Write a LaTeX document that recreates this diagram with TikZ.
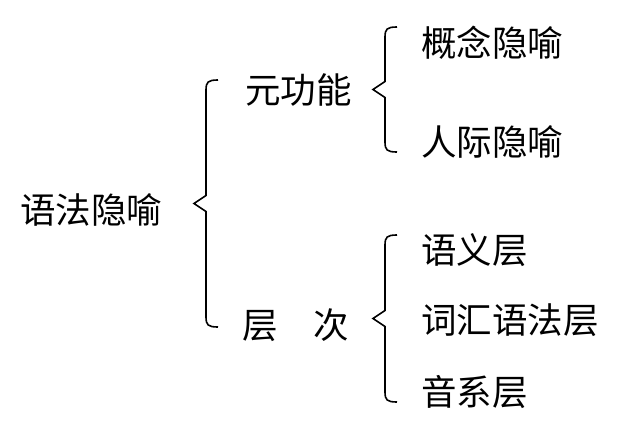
\documentclass[tikz,border=0pt]{standalone}
\usepackage{fontspec}
\newfontfamily\cjk{Noto Sans CJK SC}
\usetikzlibrary{positioning,calc}

\begin{document}
\begin{tikzpicture}[x=1pt,y=-1pt,
    lbl/.style={font=\cjk\fontsize{35.5}{40}\selectfont,inner sep=0pt,anchor=west},
    brc/.style={line width=1.6pt,line join=miter,
      to path={let \p1=(\tikztostart), \p2=(\tikztotarget),
                   \p3=($(\p1)!0.5!(\p2)$) in
        (\p1) .. controls +(-10pt,0pt) and +(0pt,-8pt) .. (\x1-12pt,\y1+10pt)
        -- (\x1-12pt,\y3-8pt) -- (\x1-24pt,\y3) -- (\x1-12pt,\y3+8pt)
        -- (\x1-12pt,\y2-10pt) .. controls +(0pt,8pt) and +(-10pt,0pt) .. (\p2)}}]
  \useasboundingbox (0,0) rectangle (618,434);
  % first level
  \node[lbl] (root) at (20,210) {语法隐喻};
  \coordinate (bigtop) at (218,80);
  \coordinate (bigbot) at (218,327);
  \draw[brc] (bigbot) to (bigtop);
  % second level
  \node[lbl] (meta) at (245,90) {元功能};
  \node[lbl] (level) at (242,325) {层\hspace{1em}次};
  \coordinate (metatop) at (397,27);
  \coordinate (metabot) at (397,152);
  \draw[brc] (metabot) to (metatop);
  \coordinate (leveltop) at (397,235);
  \coordinate (levelbot) at (397,402);
  \draw[brc] (levelbot) to (leveltop);
  % third level
  \node[lbl] (ideat) at (421,43) {概念隐喻};
  \node[lbl] (interp) at (421,142) {人际隐喻};
  \node[lbl] (sem) at (421,250) {语义层};
  \node[lbl] (lexgr) at (421,320) {词汇语法层};
  \node[lbl] (phon) at (421,392) {音系层};
\end{tikzpicture}
\end{document}
